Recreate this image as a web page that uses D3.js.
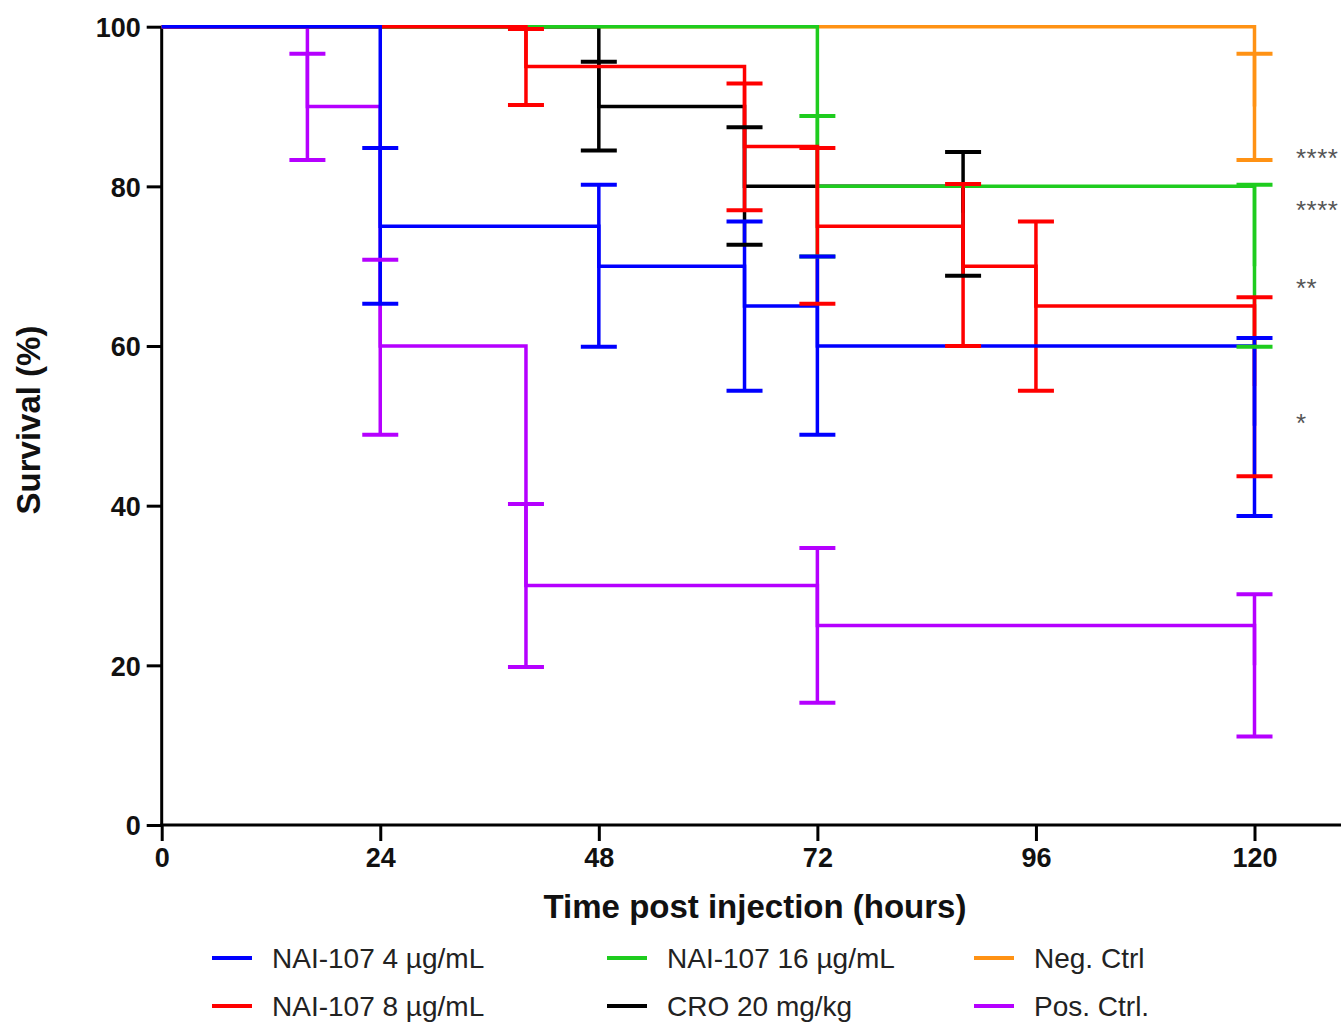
<!DOCTYPE html>
<html>
<head>
<meta charset="utf-8">
<script src="https://cdnjs.cloudflare.com/ajax/libs/d3/7.8.5/d3.min.js"></script>
<style>
  body { margin: 0; background: #fff; }
  text { font-family: "Liberation Sans", Arial, sans-serif; }
</style>
</head>
<body>
<div id="chart"></div>
<script>
    // survival steps: [time (h), survival %, error low, error high]
    var nai4  = [[0,100],[24,75,65.3,84.8],[48,70,59.9,80.2],[64,65,54.4,75.6],[72,60,48.9,71.2],[120,50,38.7,61.0]];
    var nai8  = [[0,100],[40,95,90.2,99.7],[64,85,77.0,92.9],[72,75,65.3,84.8],[88,70,60.0,80.3],[96,65,54.4,75.6],[120,55,43.7,66.1]];
    var nai16 = [[0,100],[72,80,71.2,88.8],[120,70,59.9,80.2]];
    var cro   = [[0,100],[48,90,84.5,95.6],[64,80,72.7,87.4],[88,76.7,68.8,84.3]];
    var neg   = [[0,100],[120,90,83.3,96.6]];
    var pos   = [[0,100],[16,90,83.3,96.6],[24,60,48.9,70.8],[40,30,19.8,40.2],[72,25,15.3,34.7],[120,20,11.1,28.9]];

    var legendNames  = ["NAI-107 4 µg/mL", "NAI-107 8 µg/mL", "NAI-107 16 µg/mL", "CRO 20 mg/kg", "Neg. Ctrl", "Pos. Ctrl."];
    var legendColors = ["#0000ff", "#ff0000", "#1ecc1e", "#000000", "#ff9214", "#b500ff"];
    var legendData   = [nai4, nai8, nai16, cro, neg, pos];

    var xTicks = [0, 24, 48, 72, 96, 120];
    var yTicks = [0, 20, 40, 60, 80, 100];

    // significance marks next to the 120 h end points
    var sigLabels = ["****", "****", "**", "*"];
    var sigY      = [84.3, 77.8, 68.0, 51.1];

    var width = 1341, height = 1023;

    var svg = d3.select("#chart").append("svg")
                .attr("width", width)
                .attr("height", height)
                .style("background", "#fff");

    var x = d3.scaleLinear().domain([0, 120]).range([161.7, 1254.5]);
    var y = d3.scaleLinear().domain([0, 100]).range([825, 26.7]);

    //axes
    var yAxis = svg.append("g")
                   .attr("transform", "translate(" + x(0) + ",0)")
                   .call(d3.axisLeft(y).tickValues(yTicks).tickSize(15).tickSizeOuter(0).tickPadding(6));
    var xAxis = svg.append("g")
                   .attr("transform", "translate(0," + y(0) + ")")
                   .call(d3.axisBottom(x).tickValues(xTicks).tickSize(16).tickSizeOuter(0).tickPadding(7));

    [xAxis, yAxis].forEach(function(g) {
        g.select(".domain").remove();
        g.selectAll(".tick line").attr("stroke", "#000").attr("stroke-width", 3);
        g.selectAll(".tick text")
         .attr("fill", "#111")
         .style("font-size", "27px")
         .style("font-weight", "bold");
    });
    yAxis.selectAll(".tick text").attr("dy", "0.36em");

    svg.append("line")
       .attr("x1", x(0)).attr("x2", x(0))
       .attr("y1", y(100)).attr("y2", y(0))
       .attr("stroke", "#000").attr("stroke-width", 3);
    svg.append("line")
       .attr("x1", x(0) - 1.5).attr("x2", width)
       .attr("y1", y(0)).attr("y2", y(0))
       .attr("stroke", "#000").attr("stroke-width", 3);

    // draw order as in the figure (bottom to top)
    var order = [4, 3, 2, 5, 1, 0];

    var step = d3.line()
                 .x(function(d) { return x(d[0]); })
                 .y(function(d) { return y(d[1]); })
                 .curve(d3.curveStepAfter);

    var capW = 18;

    order.forEach(function(i) {
        var data = legendData[i], col = legendColors[i];
        var g = svg.append("g").attr("class", "series");
        g.append("path")
         .attr("d", step(data))
         .attr("fill", "none")
         .attr("stroke", col)
         .attr("stroke-width", 3.5);
        g.selectAll(".err")
         .data(data.filter(function(d) { return d.length > 2; }))
         .enter().append("line")
         .attr("x1", function(d) { return x(d[0]); })
         .attr("x2", function(d) { return x(d[0]); })
         .attr("y1", function(d) { return y(d[2]); })
         .attr("y2", function(d) { return y(d[3]); })
         .attr("stroke", col)
         .attr("stroke-width", 3.5);
    });

    // caps on top
    order.forEach(function(i) {
        var data = legendData[i], col = legendColors[i];
        var pts = [];
        data.forEach(function(d) {
            if (d.length > 2) { pts.push([d[0], d[2]]); pts.push([d[0], d[3]]); }
        });
        svg.append("g").selectAll("line")
           .data(pts)
           .enter().append("line")
           .attr("x1", function(d) { return x(d[0]) - capW; })
           .attr("x2", function(d) { return x(d[0]) + capW; })
           .attr("y1", function(d) { return y(d[1]); })
           .attr("y2", function(d) { return y(d[1]); })
           .attr("stroke", col)
           .attr("stroke-width", 4);
    });

    // significance
    svg.selectAll(".sig")
       .data(sigLabels)
       .enter().append("text")
       .attr("class", "sig")
       .attr("x", 1296)
       .attr("y", function(d, i) { return y(sigY[i]) + 15; })
       .attr("fill", "#555")
       .style("font-size", "26px")
       .style("letter-spacing", "0.5px")
       .text(function(d) { return d; });

    // axis titles
    svg.append("text")
       .attr("x", 755).attr("y", 918)
       .attr("text-anchor", "middle")
       .attr("fill", "#111")
       .style("font-size", "33px")
       .style("font-weight", "bold")
       .text("Time post injection (hours)");

    svg.append("text")
       .attr("transform", "translate(40,420) rotate(-90)")
       .attr("text-anchor", "middle")
       .attr("fill", "#111")
       .style("font-size", "33px")
       .style("font-weight", "bold")
       .text("Survival (%)");

    //legend: 3 columns x 2 rows
    var colX = [212, 607, 974];
    var rowY = [958, 1006];
    legendNames.forEach(function(name, i) {
        var lx = colX[Math.floor(i / 2)], ly = rowY[i % 2];
        svg.append("line")
           .attr("x1", lx).attr("x2", lx + 40)
           .attr("y1", ly).attr("y2", ly)
           .attr("stroke", legendColors[i])
           .attr("stroke-width", 4);
        svg.append("text")
           .attr("x", lx + 60).attr("y", ly + 10)
           .attr("fill", "#222")
           .style("font-size", "28px")
           .text(name);
    });
</script>
</body>
</html>
